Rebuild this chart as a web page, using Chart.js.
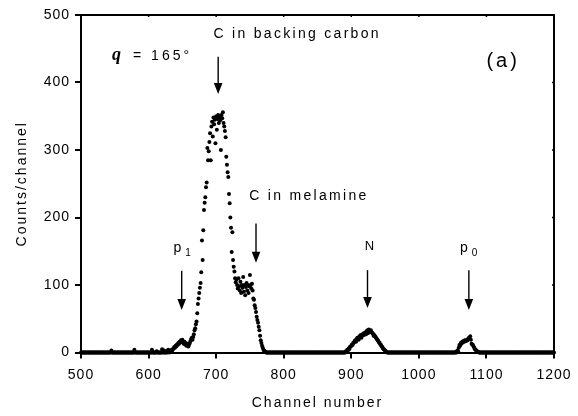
<!DOCTYPE html>
<html>
<head>
<meta charset="utf-8">
<script src="https://cdn.jsdelivr.net/npm/chart.js@4.4.1/dist/chart.umd.min.js"></script>
<style>
  html, body { margin: 0; padding: 0; background: #fff; }
</style>
</head>
<body>
<canvas id="spectrum" width="578" height="416"></canvas>
<script>
// spectrum: one value per channel, starting at channel 500
const firstChannel = 500;
const counts = [
  0,0,0,0,0,0,0,0,0,0, 0,0,0,0,0,0,0,0,0,0,            // 500
  0,0,0,0,0,0,0,0,0,0, 0,0,0,0,0,0,0,0,0,0,            // 520
  0,0,0,0,0,3,0,0,0,0, 0,0,0,0,0,0,0,0,0,0,            // 540
  0,0,0,0,0,0,0,0,0,0, 0,0,0,0,0,0,0,0,0,4,            // 560
  0,0,0,0,0,0,0,0,0,0, 0,0,0,0,0,0,0,0,0,0,            // 580
  0,0,0,0,0,4,0,0,0,0, 0,0,2,0,0,0,0,0,0,0,            // 600
  5,0,0,3,0,0,0,2,0,4, 2,0,3,1,4,3,5,6,8,7,            // 620
  10,9,12,11,14,13,16,15,18,17, 19,15,13,16,12,14,10,13,11,9,              // 640
  12,14,17,20,22,19,23,27,33,36, 42,46,58,72,80,88,96,103,119,166,         // 660
  137,181,211,222,230,245,252,303,285,298, 312,325,285,335,342,320,348,338,345,310, // 680
  350,330,346,352,340,348,344,300,352,347, 356,340,335,328,319,290,278,267,260,235, // 700
  221,200,185,149,178,137,127,120,110,104, 108,100,95,110,98,92,105,88,100,96,     // 720
  112,90,100,85,97,103,92,100,88,98, 115,100,95,102,92,80,78,70,66,60,              // 740
  53,48,44,38,33,25,18,14,10,7, 4,3,2,1,0,0,0,0,0,0,   // 760
  0,0,0,0,0,0,0,0,0,0, 0,0,0,0,0,0,0,0,0,0,            // 780
  0,0,0,0,0,0,0,0,0,0, 0,0,0,0,0,0,0,0,0,0,            // 800
  0,0,0,0,0,0,0,0,0,0, 0,0,0,0,0,0,0,0,0,0,            // 820
  0,0,0,0,0,0,0,0,0,0, 0,0,0,0,0,0,0,0,0,0,            // 840
  0,0,0,0,0,0,0,0,0,0, 0,0,0,0,0,0,0,0,0,0,            // 860
  0,0,0,0,0,0,0,0,0,0, 0,0,2,1,4,3,6,5,8,9,            // 880
  10,12,11,14,15,17,18,16,20,22, 21,19,24,23,26,22,25,27,28,26, // 900
  29,30,27,32,33,29,34,31,31,33, 30,29,28,25,26,24,23,21,20,18, // 920
  17,15,14,12,11,9,8,6,5,4, 3,2,1,0,0,0,0,0,0,0,       // 940
  0,0,0,0,0,0,0,0,0,0, 0,0,0,0,0,0,0,0,0,0,            // 960
  0,0,0,0,0,0,0,0,0,0, 0,0,0,0,0,0,0,0,0,0,            // 980
  0,0,0,0,0,0,0,0,0,0, 0,0,0,0,0,0,0,0,0,0,            // 1000
  0,0,0,0,0,0,0,0,0,0, 0,0,0,0,0,0,0,0,0,0,            // 1020
  0,0,0,0,0,0,0,0,0,0, 0,0,0,0,0,1,0,3,2,7,            // 1040
  11,10,14,13,16,15,17,16,18,17, 17,19,18,20,22,21,24,19,13,12, // 1060
  11,9,7,5,4,3,2,1,1,0, 0,0,0,0,0,0,0,0,0,0,           // 1080
  0,0,0,0,0,0,0,0,0,0, 0,0,0,0,0,0,0,0,0,0,            // 1100
  0,0,0,0,0,0,0,0,0,0, 0,0,0,0,0,0,0,0,0,0,            // 1120
  0,0,0,0,0,0,0,0,0,0, 0,0,0,0,0,0,0,0,0,0,            // 1140
  0,0,0,0,0,0,0,0,0,0, 0,0,0,0,0,0,0,0,0,0,            // 1160
  0,0,0,0,0,0,0,0,0,0, 0,0,0,0,0,0,0,0,0,0,            // 1180
  0                                                    // 1200
];
const xTickValues = [500, 600, 700, 800, 900, 1000, 1100, 1200];
const yTickValues = [0, 100, 200, 300, 400, 500];

// peak labels and arrows, in channel / counts units
const peakLabels = [
  { text: 'C in backing carbon', ch: 696, y: 471 },
  { text: 'C in melamine', ch: 749, y: 231 },
  { text: 'N', ch: 920, y: 157 },
];
const subLabels = [
  { text: 'p', sub: '1', ch: 637, y: 149 },
  { text: 'p', sub: '0', ch: 1061, y: 149 },
];
const arrows = [
  { ch: 703, from: 438, to: 383 },
  { ch: 759, from: 191, to: 133 },
  { ch: 649, from: 121, to: 63 },
  { ch: 924, from: 122, to: 66 },
  { ch: 1074, from: 122, to: 63 },
];

const points = counts.map((c, i) => ({ x: firstChannel + i, y: c }));

const SANS = '"Liberation Sans", Arial, sans-serif';

const decorations = {
  id: 'decorations',
  beforeDraw(chart) { chart.ctx.letterSpacing = '2px'; },
  afterDatasetsDraw(chart) { chart.ctx.letterSpacing = '1px'; },
  afterDraw(chart) {
    const { ctx, chartArea: a, scales: { x, y } } = chart;
    ctx.save();
    ctx.letterSpacing = '0px';
    ctx.strokeStyle = '#000';
    ctx.fillStyle = '#000';

    // top and right frame with small inward ticks
    ctx.lineWidth = 2;
    ctx.beginPath();
    ctx.moveTo(a.left - 1, a.top);
    ctx.lineTo(a.right, a.top);
    ctx.lineTo(a.right, a.bottom + 1);
    ctx.stroke();
    ctx.lineWidth = 1.5;
    ctx.beginPath();
    xTickValues.forEach(v => {
      const px = x.getPixelForValue(v);
      ctx.moveTo(px, a.top - 1);
      ctx.lineTo(px, a.top + 2);
    });
    yTickValues.forEach(v => {
      const py = y.getPixelForValue(v);
      ctx.moveTo(a.right + 1, py);
      ctx.lineTo(a.right - 2, py);
    });
    ctx.stroke();

    // arrows
    arrows.forEach(ar => {
      const px = x.getPixelForValue(ar.ch);
      const y0 = y.getPixelForValue(ar.from);
      const y1 = y.getPixelForValue(ar.to);
      ctx.lineWidth = 1.4;
      ctx.beginPath();
      ctx.moveTo(px, y0);
      ctx.lineTo(px, y1 - 8);
      ctx.stroke();
      ctx.beginPath();
      ctx.moveTo(px - 4.3, y1 - 11);
      ctx.lineTo(px + 4.3, y1 - 11);
      ctx.lineTo(px, y1);
      ctx.closePath();
      ctx.fill();
    });

    // labels
    ctx.textBaseline = 'middle';
    ctx.textAlign = 'left';
    ctx.letterSpacing = '2.3px';
    peakLabels.forEach(l => {
      const size = l.text === 'N' ? 13 : 14;
      ctx.font = size + 'px ' + SANS;
      ctx.fillText(l.text, x.getPixelForValue(l.ch), y.getPixelForValue(l.y));
    });

    ctx.textBaseline = 'alphabetic';
    ctx.letterSpacing = '0px';
    subLabels.forEach(l => {
      const px = x.getPixelForValue(l.ch);
      const py = y.getPixelForValue(l.y);
      ctx.font = '14px ' + SANS;
      ctx.fillText(l.text, px, py);
      const w = ctx.measureText(l.text).width;
      ctx.font = '10px ' + SANS;
      ctx.fillText(l.sub, px + w + 4, py + 4);
    });

    // angle note
    const qy = y.getPixelForValue(434);
    ctx.font = 'bold italic 18px "Liberation Serif", serif';
    ctx.fillText('q', x.getPixelForValue(546), qy);
    ctx.font = '14px ' + SANS;
    ctx.letterSpacing = '3px';
    ctx.fillText('= 165°', x.getPixelForValue(577), qy);

    // panel tag
    ctx.font = '20px ' + SANS;
    ctx.letterSpacing = '3px';
    ctx.textBaseline = 'middle';
    ctx.fillText('(a)', x.getPixelForValue(1100), y.getPixelForValue(431));

    ctx.restore();
  }
};

new Chart(document.getElementById('spectrum'), {
  type: 'scatter',
  data: {
    datasets: [{
      data: points,
      pointRadius: 2,
      pointHoverRadius: 2,
      pointBackgroundColor: '#000',
      pointBorderWidth: 0,
      showLine: false,
      clip: false,
    }]
  },
  options: {
    responsive: false,
    animation: false,
    events: [],
    layout: { padding: { top: 15, right: 24, left: 0, bottom: 0 } },
    plugins: { legend: { display: false }, tooltip: { enabled: false } },
    scales: {
      x: {
        type: 'linear',
        min: 500,
        max: 1200,
        afterFit(scale) { scale.height = 63.5; },
        afterBuildTicks(scale) { scale.ticks = xTickValues.map(v => ({ value: v })); },
        grid: { drawOnChartArea: false, drawTicks: true, tickLength: 6, color: '#000', lineWidth: 2 },
        border: { display: true, color: '#000', width: 2 },
        ticks: { color: '#000', font: { family: SANS, size: 14 }, padding: 8, maxRotation: 0, z: 1, callback: v => String(v) },
        title: { display: true, text: 'Channel number', color: '#000', font: { family: SANS, size: 14 }, padding: { bottom: 4, top: 0 } }
      },
      y: {
        type: 'linear',
        min: 0,
        max: 500,
        afterFit(scale) { scale.width = 81; },
        afterBuildTicks(scale) { scale.ticks = yTickValues.map(v => ({ value: v })); },
        grid: { drawOnChartArea: false, drawTicks: true, tickLength: 6, color: '#000', lineWidth: 2 },
        border: { display: true, color: '#000', width: 2 },
        ticks: { color: '#000', font: { family: SANS, size: 14 }, padding: 5, z: 1, callback: v => String(v) },
        title: { display: true, text: 'Counts/channel', color: '#000', font: { family: SANS, size: 14 }, padding: { top: 14, bottom: 0 } }
      }
    }
  },
  plugins: [decorations]
});
</script>
</body>
</html>
